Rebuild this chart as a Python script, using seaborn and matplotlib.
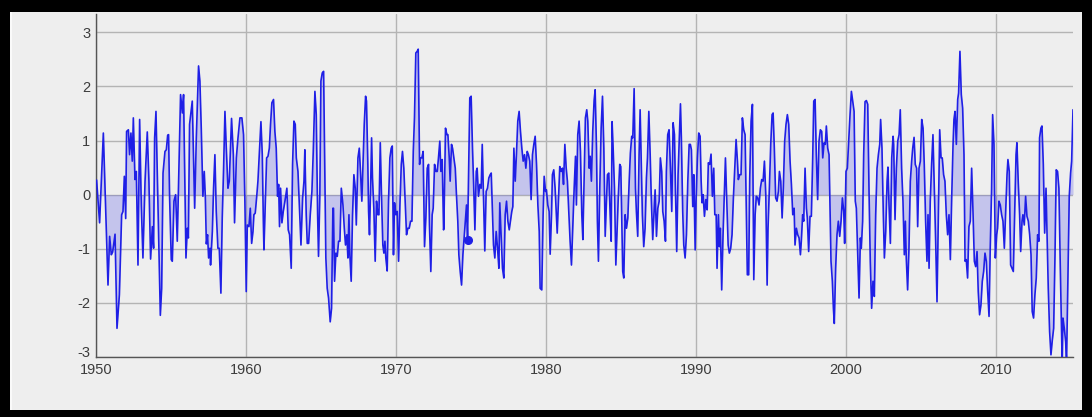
import matplotlib
matplotlib.use("Agg")
import matplotlib.pyplot as plt
import matplotlib.transforms as mtransforms
from matplotlib.patches import Rectangle
import seaborn as sns
import numpy as np
import pandas as pd

# ---------------- data (decimal year, index value) ----------------
years_1950 = [1950.04, 1950.24, 1950.49, 1950.80, 1950.91, 1951.02, 1951.11, 1951.27, 1951.40, 1951.56,
              1951.71, 1951.80, 1951.89, 1951.98, 1952.04, 1952.16, 1952.24, 1952.33, 1952.42, 1952.49,
              1952.60, 1952.69, 1952.80, 1952.91, 1953.02, 1953.13, 1953.27, 1953.42, 1953.53, 1953.64,
              1953.76, 1953.84, 1953.91, 1954.00, 1954.09, 1954.20, 1954.29, 1954.38, 1954.47, 1954.60,
              1954.69, 1954.78, 1954.84, 1954.91, 1955.02, 1955.09]
values_1950 = [0.27, -0.52, 1.14, -1.67, -0.77, -1.11, -1.06, -0.73, -2.47, -1.85,
               -0.37, -0.31, 0.34, -0.44, 1.17, 1.20, 0.74, 1.14, 0.62, 1.42,
               0.28, 0.43, -1.30, 1.39, -0.19, -1.17, 0.25, 1.16, 0.25, -1.19,
               -0.59, -0.99, 1.05, 1.54, 0.37, -0.99, -2.23, -1.73, 0.40, 0.80,
               0.83, 1.10, 1.11, -0.06, -1.20, -1.23]

years_1955 = [1955.20, 1955.31, 1955.42, 1955.64, 1955.76, 1955.84, 1956.00, 1956.09, 1956.16, 1956.24,
              1956.42, 1956.58, 1956.69, 1956.84, 1956.93, 1957.02, 1957.13, 1957.22, 1957.29, 1957.36,
              1957.44, 1957.51, 1957.60, 1957.64, 1957.76, 1957.84, 1957.93, 1958.02, 1958.13, 1958.22,
              1958.33, 1958.42, 1958.51, 1958.60, 1958.69, 1958.80, 1958.89, 1959.04, 1959.16, 1959.24,
              1959.36, 1959.47, 1959.60, 1959.73, 1959.84, 1959.93, 1960.02, 1960.09, 1960.20, 1960.29,
              1960.38, 1960.47, 1960.53, 1960.62, 1960.71, 1960.80, 1960.91, 1961.00, 1961.09, 1961.16]
values_1955 = [-0.12, 0.00, -0.86, 1.85, 1.51, 1.85, -1.17, -0.62, -0.80, 1.30,
               1.73, -0.25, 1.05, 2.38, 2.10, 1.23, -0.03, 0.43, -0.03, -0.91,
               -0.74, -1.17, -0.99, -1.30, -0.68, 0.12, 0.74, -0.31, -0.99, -0.99,
               -1.82, -0.43, 0.49, 1.54, 0.86, 0.12, 0.25, 1.41, 0.74, -0.52,
               0.68, 1.05, 1.42, 1.42, 1.11, -0.12, -1.79, -0.56, -0.59, -0.25,
               -0.90, -0.68, -0.37, -0.34, -0.06, 0.25, 0.86, 1.35, 0.74, -0.49]

years_1961 = [1961.20, 1961.38, 1961.47, 1961.56, 1961.64, 1961.73, 1961.84, 1961.93, 1962.02, 1962.11,
              1962.18, 1962.24, 1962.31, 1962.40, 1962.49, 1962.60, 1962.73, 1962.82, 1962.91, 1963.02,
              1963.11, 1963.20, 1963.29, 1963.36, 1963.47, 1963.58, 1963.67, 1963.78, 1963.87, 1963.93,
              1964.02, 1964.09, 1964.18, 1964.29, 1964.40, 1964.49, 1964.60, 1964.69, 1964.78, 1964.84,
              1964.93, 1965.00, 1965.09, 1965.18, 1965.24, 1965.33, 1965.42, 1965.51, 1965.62, 1965.71,
              1965.80, 1965.84, 1965.91, 1966.00, 1966.09, 1966.18, 1966.27, 1966.36, 1966.47, 1966.56,
              1966.64, 1966.73, 1966.80, 1966.87, 1966.93, 1967.02, 1967.11]
values_1961 = [-1.02, 0.68, 0.71, 0.86, 1.30, 1.70, 1.76, 1.17, 0.86, -0.03,
               0.19, -0.59, 0.12, -0.52, -0.31, -0.12, 0.12, -0.65, -0.74, -1.36,
               0.56, 1.36, 1.30, 0.68, 0.43, -0.31, -0.93, -0.06, 0.25, 0.83,
               -0.37, -0.90, -0.90, -0.37, 0.06, 0.80, 1.91, 1.48, -0.37, -1.14,
               0.00, 2.10, 2.25, 2.28, 0.86, -1.17, -1.73, -1.91, -2.35, -2.10,
               -0.25, -0.25, -1.60, -1.08, -1.14, -0.86, -0.86, 0.12, -0.19, -0.62,
               -0.93, -0.74, -1.17, -0.37, -1.11, -1.60, -0.37]

years_1967 = [1967.20, 1967.29, 1967.36, 1967.47, 1967.56, 1967.64, 1967.73, 1967.82, 1967.89, 1967.98,
              1968.04, 1968.13, 1968.18, 1968.24, 1968.31, 1968.38, 1968.44, 1968.53, 1968.62, 1968.71,
              1968.80, 1968.87, 1968.96, 1969.04, 1969.13, 1969.20, 1969.27, 1969.33, 1969.42, 1969.51,
              1969.60, 1969.69, 1969.76, 1969.84, 1969.91, 1970.00, 1970.09, 1970.18, 1970.27, 1970.36,
              1970.44, 1970.53, 1970.62, 1970.71, 1970.80, 1970.89, 1970.98, 1971.07, 1971.16, 1971.24,
              1971.33, 1971.42, 1971.49, 1971.58, 1971.64, 1971.73, 1971.82, 1971.91, 1972.00, 1972.09,
              1972.18, 1972.24, 1972.33, 1972.42, 1972.49, 1972.58, 1972.67, 1972.76, 1972.84, 1972.93,
              1973.00, 1973.09, 1973.18]
values_1967 = [0.37, 0.12, -0.56, 0.68, 0.86, 0.43, -0.12, 0.68, 1.30, 1.82,
               1.73, 0.56, -0.31, -0.74, 0.06, 1.05, 0.31, -0.25, -1.23, -0.12,
               -0.37, -0.37, 0.96, 0.00, -0.93, -1.08, -0.86, -1.17, -1.41, -0.12,
               0.68, 0.86, 0.90, -1.11, -0.15, -0.37, -0.31, -1.23, -0.19, 0.56,
               0.80, 0.49, -0.12, -0.74, -0.62, -0.62, -0.49, -0.49, 0.80, 1.42,
               2.62, 2.65, 2.69, 0.56, 0.68, 0.68, 0.80, -0.96, -0.43, 0.49,
               0.56, -0.56, -1.42, -0.37, -0.25, 0.56, 0.43, 0.43, 0.68, 0.99,
               0.43, 0.65, -0.65]

years_1973 = [1973.20, 1973.31, 1973.40, 1973.47, 1973.56, 1973.62, 1973.71, 1973.78, 1973.87, 1973.96,
              1974.04, 1974.13, 1974.20, 1974.29, 1974.38, 1974.47, 1974.56, 1974.64, 1974.71, 1974.78,
              1974.84, 1974.93, 1975.02, 1975.11, 1975.18, 1975.27, 1975.36, 1975.42, 1975.51, 1975.60,
              1975.69, 1975.76, 1975.84, 1975.93, 1976.02, 1976.11, 1976.20, 1976.29, 1976.36, 1976.42,
              1976.51, 1976.60, 1976.69, 1976.78, 1976.87, 1976.93, 1977.02, 1977.11, 1977.20, 1977.29,
              1977.38, 1977.47, 1977.56, 1977.64, 1977.73, 1977.80, 1977.87, 1977.96, 1978.04, 1978.13,
              1978.22, 1978.31, 1978.40, 1978.49, 1978.58, 1978.67, 1978.76, 1978.84, 1978.93, 1979.02,
              1979.11]
values_1973 = [-0.62, 1.23, 1.11, 1.11, 0.68, 0.25, 0.93, 0.86, 0.68, 0.49,
               0.00, -0.49, -1.11, -1.42, -1.67, -1.11, -0.77, -0.49, -0.19, -0.80,
               0.25, 1.79, 1.82, 0.86, 0.25, -0.65, 0.43, 0.49, -0.03, 0.19,
               0.12, 0.93, 0.00, -1.04, 0.06, 0.12, 0.31, 0.37, 0.40, -0.12,
               -0.93, -1.17, -0.68, -0.99, -1.36, -0.15, -0.74, -1.36, -1.54, -0.37,
               -0.12, -0.49, -0.65, -0.49, -0.31, -0.22, 0.86, 0.25, 0.74, 1.36,
               1.54, 1.17, 0.86, 0.62, 0.74, 0.49, 0.80, 0.74, 0.62, -0.09,
               0.74]

years_1979 = [1979.20, 1979.29, 1979.38, 1979.47, 1979.56, 1979.62, 1979.73, 1979.82, 1979.89, 1979.98,
              1980.04, 1980.13, 1980.22, 1980.29, 1980.38, 1980.44, 1980.53, 1980.62, 1980.69, 1980.76,
              1980.84, 1980.93, 1981.02, 1981.11, 1981.18, 1981.27, 1981.36, 1981.44, 1981.53, 1981.62,
              1981.71, 1981.80, 1981.89, 1981.98, 1982.04, 1982.13, 1982.22, 1982.31, 1982.40, 1982.47,
              1982.56, 1982.64, 1982.73, 1982.80, 1982.89, 1982.96, 1983.04, 1983.13, 1983.22, 1983.29,
              1983.38, 1983.44, 1983.51, 1983.60, 1983.69, 1983.78, 1983.87, 1983.96, 1984.04, 1984.11,
              1984.20, 1984.29, 1984.36, 1984.42, 1984.49, 1984.58, 1984.67, 1984.76, 1984.84, 1984.93,
              1985.00, 1985.07, 1985.13]
values_1979 = [0.93, 1.08, 0.56, -0.19, -0.68, -1.73, -1.76, -0.37, 0.34, 0.06,
               0.09, -0.19, -0.31, -1.10, -0.37, 0.37, 0.46, 0.12, -0.31, -0.71,
               -0.12, 0.52, 0.43, 0.49, 0.19, 0.93, 0.49, 0.25, -0.31, -0.86,
               -1.30, -0.56, 0.12, 0.71, -0.19, 1.11, 1.36, 0.80, -0.37, -0.83,
               0.37, 1.42, 1.57, 1.36, 0.49, 0.71, 0.25, 1.17, 1.74, 1.94,
               0.86, -0.49, -1.23, 0.12, 1.23, 1.82, 0.86, -0.77, -0.19, 0.37,
               0.40, -0.37, -0.86, 1.35, 0.86, 0.12, -1.30, -0.62, 0.00, 0.56,
               0.52, -0.49, -1.42]

years_1985 = [1985.20, 1985.29, 1985.38, 1985.47, 1985.56, 1985.64, 1985.73, 1985.80, 1985.89, 1985.98,
              1986.04, 1986.13, 1986.22, 1986.29, 1986.36, 1986.44, 1986.53, 1986.62, 1986.71, 1986.78,
              1986.87, 1986.96, 1987.04, 1987.13, 1987.20, 1987.29, 1987.38, 1987.47, 1987.56, 1987.64,
              1987.73, 1987.80, 1987.89, 1987.98, 1988.04, 1988.13, 1988.22, 1988.31, 1988.40, 1988.49,
              1988.58, 1988.64, 1988.73, 1988.82, 1988.91, 1988.98, 1989.04, 1989.13, 1989.20, 1989.29,
              1989.38, 1989.47, 1989.56, 1989.64, 1989.71, 1989.80, 1989.87, 1989.96, 1990.02, 1990.11,
              1990.20, 1990.29, 1990.36, 1990.42, 1990.49, 1990.58, 1990.67, 1990.76, 1990.84, 1990.93,
              1991.02, 1991.11]
values_1985 = [-1.54, -0.37, -0.62, -0.43, 0.25, 0.77, 1.08, 1.05, 1.96, 0.12,
               -0.31, -0.77, 0.74, 1.57, 0.68, -0.37, -0.96, -0.62, 0.31, 0.68,
               1.54, 0.74, -0.12, -0.83, -0.43, 0.09, -0.77, -0.25, -0.12, 0.68,
               0.43, -0.31, -0.49, -0.86, 0.43, 1.11, 1.20, 0.49, -0.31, 1.33,
               1.11, 0.19, -1.05, 0.37, 1.11, 1.68, 1.05, -0.31, -0.93, -1.17,
               -0.74, 0.25, 0.93, 0.93, 0.83, -0.22, 0.37, -1.02, -0.12, 0.68,
               1.14, 1.08, 0.25, -0.15, 0.00, -0.40, -0.09, -0.28, 0.59, 0.56,
               0.75, -0.03]

years_1991 = [1991.20, 1991.27, 1991.36, 1991.42, 1991.51, 1991.58, 1991.64, 1991.73, 1991.82, 1991.89,
              1991.98, 1992.07, 1992.16, 1992.24, 1992.33, 1992.42, 1992.51, 1992.60, 1992.69, 1992.78,
              1992.84, 1992.93, 1993.02, 1993.11, 1993.20, 1993.29, 1993.36, 1993.44, 1993.53, 1993.60,
              1993.69, 1993.78, 1993.87, 1993.96, 1994.04, 1994.13, 1994.22, 1994.31, 1994.40, 1994.49,
              1994.58, 1994.67, 1994.76, 1994.82, 1994.91, 1995.00, 1995.09, 1995.16, 1995.24, 1995.33,
              1995.42, 1995.51, 1995.58, 1995.67, 1995.76, 1995.84, 1995.93, 1996.02, 1996.11, 1996.20,
              1996.29, 1996.38, 1996.47, 1996.56, 1996.62, 1996.71, 1996.80, 1996.89, 1996.98, 1997.04,
              1997.13]
values_1991 = [0.49, -0.37, -0.37, -1.36, -0.37, -0.96, -0.62, -1.76, -0.74, -0.12,
               0.68, -0.12, -0.93, -1.08, -0.99, -0.74, -0.06, 0.49, 1.02, 0.62,
               0.28, 0.37, 0.37, 1.42, 1.20, 1.11, -0.06, -1.48, -1.48, 0.31,
               1.36, 1.67, -1.57, -0.37, -0.03, -0.06, -0.19, 0.12, 0.28, 0.25,
               0.62, 0.00, -1.67, -0.62, 0.12, 0.93, 1.48, 1.51, 0.86, -0.06,
               -0.12, 0.06, 0.43, 0.25, -0.43, 0.12, 0.99, 1.30, 1.48, 1.30,
               0.62, 0.19, -0.37, -0.25, -0.93, -0.62, -0.74, -0.80, -1.11, -0.86,
               -0.37]

years_1997 = [1997.20, 1997.29, 1997.38, 1997.44, 1997.53, 1997.62, 1997.71, 1997.80, 1997.87, 1997.96,
              1998.04, 1998.13, 1998.22, 1998.31, 1998.40, 1998.47, 1998.56, 1998.64, 1998.71, 1998.80,
              1998.89, 1998.96, 1999.02, 1999.11, 1999.18, 1999.24, 1999.33, 1999.42, 1999.51, 1999.60,
              1999.69, 1999.78, 1999.87, 1999.93, 2000.02, 2000.11, 2000.20, 2000.29, 2000.38, 2000.47,
              2000.56, 2000.64, 2000.71, 2000.80, 2000.89, 2000.98, 2001.04, 2001.13, 2001.20, 2001.29,
              2001.38, 2001.47, 2001.56, 2001.64, 2001.73, 2001.82, 2001.91, 2002.00, 2002.09, 2002.18,
              2002.27, 2002.33, 2002.42, 2002.51, 2002.58, 2002.67, 2002.76, 2002.82, 2002.89, 2002.98,
              2003.07, 2003.16]
values_1997 = [-0.49, 0.49, -0.25, -0.43, -1.05, -0.40, -0.40, 0.68, 1.73, 1.76,
               0.74, -0.09, 0.99, 1.20, 1.17, 0.68, 0.96, 0.93, 1.27, 0.86,
               0.74, -0.37, -1.23, -1.60, -2.10, -2.38, -1.36, -0.74, -0.49, -0.77,
               -0.49, -0.06, -0.31, -0.90, 0.43, 0.49, 0.99, 1.48, 1.91, 1.73,
               1.54, -0.12, -0.25, -1.11, -1.91, -0.80, -0.99, -0.49, 0.74, 1.72,
               1.74, 1.67, 0.00, -1.23, -2.10, -1.60, -1.88, -0.37, 0.49, 0.74,
               0.93, 1.39, 0.86, -0.37, -1.17, -0.68, 0.25, 0.51, -0.19, -0.90,
               0.68, 1.08]

years_2003 = [2003.20, 2003.29, 2003.38, 2003.47, 2003.56, 2003.64, 2003.73, 2003.82, 2003.91, 2003.98,
              2004.04, 2004.13, 2004.22, 2004.31, 2004.40, 2004.47, 2004.56, 2004.64, 2004.73, 2004.80,
              2004.89, 2004.98, 2005.07, 2005.16, 2005.24, 2005.33, 2005.42, 2005.49, 2005.56, 2005.64,
              2005.73, 2005.82, 2005.91, 2006.00, 2006.09, 2006.18, 2006.27, 2006.36, 2006.44, 2006.53,
              2006.62, 2006.71, 2006.80, 2006.89, 2006.98, 2007.07, 2007.16, 2007.22, 2007.29, 2007.38,
              2007.47, 2007.53, 2007.62, 2007.71, 2007.80, 2007.89, 2007.96, 2008.04, 2008.13, 2008.22,
              2008.31, 2008.40, 2008.49, 2008.58, 2008.67, 2008.76, 2008.84, 2008.93, 2009.02, 2009.11]
values_2003 = [0.93, -0.46, 0.49, 0.99, 1.11, 1.57, 0.49, -0.12, -1.11, -0.49,
               -1.17, -1.76, -0.99, 0.25, 0.62, 0.86, 1.06, 0.56, 0.49, -0.59,
               0.49, 0.62, 1.39, 1.23, 0.56, -0.49, -1.23, -0.37, -1.36, -0.12,
               0.56, 1.11, 0.12, -0.86, -1.98, -0.37, 1.20, 0.68, 0.68, 0.37,
               0.25, -0.37, -0.74, -0.37, -1.20, -0.06, 0.93, 1.39, 1.54, 0.93,
               1.76, 1.88, 2.65, 1.85, 1.60, 0.74, -1.23, -1.20, -1.54, -0.59,
               -0.49, 0.49, -0.31, -1.23, -1.33, -1.05, -1.79, -2.22, -2.04, -1.60]

years_2009 = [2009.20, 2009.29, 2009.38, 2009.47, 2009.56, 2009.64, 2009.73, 2009.80, 2009.89, 2009.98,
              2010.07, 2010.13, 2010.22, 2010.31, 2010.40, 2010.49, 2010.58, 2010.67, 2010.76, 2010.82,
              2010.91, 2011.00, 2011.09, 2011.18, 2011.27, 2011.36, 2011.42, 2011.51, 2011.60, 2011.67,
              2011.76, 2011.82, 2011.91, 2012.00, 2012.09, 2012.18, 2012.27, 2012.36, 2012.44, 2012.53,
              2012.62, 2012.71, 2012.80, 2012.89, 2012.93, 2013.02, 2013.09, 2013.18, 2013.27, 2013.36,
              2013.42, 2013.51, 2013.60, 2013.69, 2013.78, 2013.87, 2013.96, 2014.04, 2014.13, 2014.22,
              2014.31, 2014.40, 2014.44, 2014.49, 2014.58, 2014.67, 2014.73, 2014.82, 2014.91, 2015.00,
              2015.07, 2015.16]
values_2009 = [-1.42, -1.08, -1.23, -1.79, -2.25, -0.99, 0.09, 1.48, 0.93, -1.17,
               -0.74, -0.62, -0.12, -0.19, -0.37, -0.49, -0.99, -0.31, 0.37, 0.65,
               0.43, -1.30, -1.36, -1.42, -0.31, 0.74, 0.96, 0.22, -0.37, -1.05,
               -0.49, -0.37, -0.56, -0.03, -0.40, -0.49, -0.74, -1.11, -2.16, -2.28,
               -1.85, -1.54, -0.74, -0.86, 1.05, 1.23, 1.27, 0.56, -0.71, 0.12,
               -0.62, -1.73, -2.53, -2.96, -2.69, -2.47, -1.11, 0.46, 0.43, 0.12,
               -1.30, -2.59, -3.15, -2.28, -2.47, -2.72, -3.10, -1.60, -0.03, 0.40,
               0.62, 1.57]

highlight_year = [1974.78]
highlight_value = [-0.83]

x_ticks = [1950, 1960, 1970, 1980, 1990, 2000, 2010]
x_tick_labels = ["1950", "1960", "1970", "1980", "1990", "2000", "2010"]
y_ticks = [-3, -2, -1, 0, 1, 2, 3]
y_tick_labels = ["-3", "-2", "-1", "0", "1", "2", "3"]

years = (years_1950 + years_1955 + years_1961 + years_1967 + years_1973 + years_1979
         + years_1985 + years_1991 + years_1997 + years_2003 + years_2009)
values = (values_1950 + values_1955 + values_1961 + values_1967 + values_1973 + values_1979
          + values_1985 + values_1991 + values_1997 + values_2003 + values_2009)
df = pd.DataFrame({"year": years, "value": values})

# ---------------- styling ----------------
sns.set_theme(style="white")
plt.rcParams["font.family"] = ["Liberation Sans", "DejaVu Sans"]
plt.rcParams["axes.unicode_minus"] = False

BG = "#eeeeee"
LINE = "#1f1fe6"
GRID = "#b4b4b4"
TXT = "#3c3c3c"

W, H = 1092, 417
fig = plt.figure(figsize=(W / 100, H / 100), dpi=100, facecolor=BG)
ax = fig.add_axes([96 / W, 1 - 357 / H, (1073 - 96) / W, (357 - 14) / H])
ax.set_facecolor(BG)

ax.fill_between(df["year"], df["value"], 0, color=LINE, alpha=0.2, lw=0, zorder=2)
sns.lineplot(data=df, x="year", y="value", ax=ax, color=LINE, lw=1.2,
             sort=False, estimator=None, zorder=3)
ax.plot(highlight_year, highlight_value, "o", color=LINE, ms=5.5, zorder=4)

ax.set_xlim(1950, 2015.16)
ax.set_ylim(-3.0, 3.34)
ax.set_xticks(x_ticks)
ax.set_xticklabels(x_tick_labels)
ax.set_yticks(y_ticks)
ax.set_yticklabels(y_tick_labels)
ax.set_xlabel("")
ax.set_ylabel("")
ax.grid(True, color=GRID, lw=1.0, zorder=0)
ax.set_axisbelow(True)
ax.tick_params(length=0, labelsize=10.5, colors=TXT, pad=4)
for lab in ax.get_xticklabels() + ax.get_yticklabels():
    lab.set_color(TXT)

for side in ["top", "right"]:
    ax.spines[side].set_visible(False)
for side in ["left", "bottom"]:
    ax.spines[side].set_visible(True)
    ax.spines[side].set_color("#555555")
    ax.spines[side].set_linewidth(1.0)

# lift the lowest y label a little, as in the reference
low = ax.get_yticklabels()[0]
low.set_transform(low.get_transform() + mtransforms.ScaledTranslation(0, 4 / 72, fig.dpi_scale_trans))

# black window frame around the figure
frame = [
    (0, 0, 10 / W, 1),
    (0, 1 - 12 / H, 1, 12 / H),
    (0, 0, 1, 7 / H),
    (1 - 10 / W, 0, 10 / W, 1),
]
for x0, y0, w, h in frame:
    fig.patches.append(Rectangle((x0, y0), w, h, transform=fig.transFigure,
                                 facecolor="black", edgecolor="none", zorder=10))
fig.patches.append(Rectangle((10 / W, 7 / H), 2 / W, 1 - 19 / H, transform=fig.transFigure,
                             facecolor="#fafafa", edgecolor="none", zorder=10))

fig.savefig("out.png", dpi=100, facecolor=BG)
